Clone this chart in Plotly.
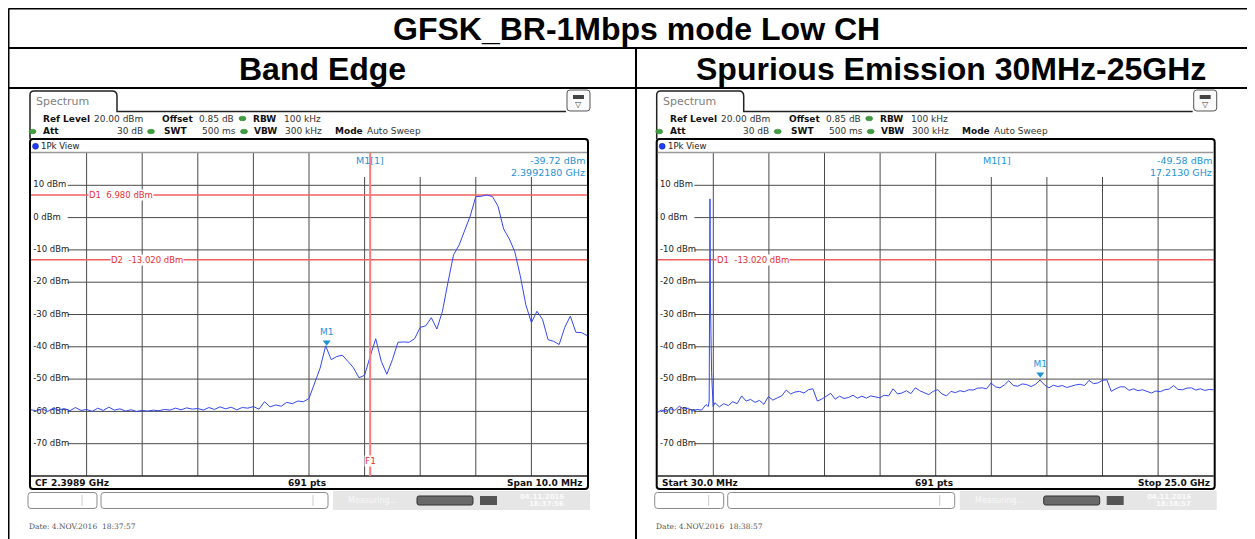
import numpy as np
import plotly.graph_objects as go

W, H = 1255, 539
OX, OY = 8, 8            # the page body margin shifts the figure by 8px
FW, FH = W - OX, H - OY

# ---- data ----
title_text = "GFSK_BR-1Mbps mode Low CH"
panel_titles = ["Band Edge", "Spurious Emission 30MHz-25GHz"]
level_ticks = [10, 0, -10, -20, -30, -40, -50, -60, -70]

# band edge sweep: CF 2.3989 GHz, span 10 MHz, one value every 0.1 MHz (dBm)
be_start_mhz, be_stop_mhz = 2393.9, 2403.9
be_level_dbm = [
    -59.5, -59.8, -59.2, -60.0, -59.0, -59.6, -59.1, -59.8, -58.8, -59.7,
    -59.4, -60.0, -59.0, -59.7, -58.7, -59.6, -59.2, -59.9, -59.5, -60.0,
    -59.7, -59.9, -59.6, -59.8, -59.4, -59.6, -59.0, -59.5, -58.9, -59.3,
    -59.1, -59.6, -58.8, -59.4, -58.6, -59.2, -58.7, -59.5, -58.8, -59.0,
    -58.5, -59.3, -57.0, -58.6, -58.0, -58.4, -57.2, -57.6, -56.8, -57.0,
    -56.0, -51.0, -46.6, -39.7, -44.0, -43.0, -42.6, -44.5, -46.5, -49.6,
    -48.8, -43.0, -37.5, -44.5, -48.5, -44.0, -38.6, -38.5, -38.6, -37.5,
    -34.0, -33.5, -31.0, -34.5, -29.0, -20.0, -11.5, -8.5, -4.0, 0.5,
    6.5, 6.6, 7.0, 6.5, 3.5, -3.5, -6.5, -10.5, -18.0, -27.0,
    -32.5, -29.0, -31.5, -37.8, -38.3, -39.3, -34.0, -30.5, -35.5, -35.6,
    -36.5,
]
be_marker = (2399.218, -39.72)
be_f1_mhz = 2400.0
be_limits = [("D1", 6.98), ("D2", -13.02)]

# spurious sweep 30 MHz - 25 GHz (GHz, dBm)
sp_freq_ghz = [
    0.03, 0.2, 0.4, 0.6, 0.8, 1.0, 1.2, 1.4, 1.6, 1.8,
    2.0, 2.2, 2.3, 2.342, 2.378, 2.40, 2.45, 2.49, 2.52,
    2.6, 2.8, 3.0, 3.2, 3.4, 3.6, 3.8, 4.0, 4.2, 4.4,
    4.6, 4.8, 5.0, 5.2, 5.4, 5.6, 5.8, 6.0, 6.2, 6.4,
    6.6, 6.8, 7.0, 7.2, 7.4, 7.6, 7.8, 8.0, 8.2, 8.4,
    8.6, 8.8, 9.0, 9.2, 9.4, 9.6, 9.8, 10.0, 10.2, 10.4,
    10.6, 10.8, 11.0, 11.2, 11.4, 11.6, 11.8, 12.0, 12.2, 12.4,
    12.6, 12.8, 13.0, 13.2, 13.4, 13.6, 13.8, 14.0, 14.2, 14.4,
    14.6, 14.8, 15.0, 15.2, 15.4, 15.6, 15.8, 16.0, 16.2, 16.4,
    16.6, 16.8, 17.0, 17.2, 17.4, 17.6, 17.8, 18.0, 18.2, 18.4,
    18.6, 18.8, 19.0, 19.2, 19.4, 19.6, 19.8, 20.0, 20.2, 20.4,
    20.6, 20.8, 21.0, 21.2, 21.4, 21.6, 21.8, 22.0, 22.2, 22.4,
    22.6, 22.8, 23.0, 23.2, 23.4, 23.6, 23.8, 24.0, 24.2, 24.4,
    24.6, 24.8, 25.0,
]
sp_level_dbm = [
    -60.3, -59.6, -60.0, -59.2, -59.7, -58.4, -59.3, -59.0, -59.9, -59.4,
    -59.6, -57.9, -58.5, -56.8, 5.8, -26.4, -48.0, -56.0, -58.5,
    -57.3, -58.6, -57.6, -58.2, -57.0, -57.6, -55.2, -56.8, -56.3, -57.2,
    -56.6, -57.8, -55.4, -56.5, -55.8, -55.2, -53.4, -54.6, -54.0, -53.8,
    -54.3, -53.3, -53.0, -56.8, -56.2, -55.4, -54.4, -56.2, -55.3, -56.0,
    -55.7, -55.0, -55.9, -55.3, -55.9, -55.2, -55.6, -55.8, -55.0, -55.2,
    -53.0, -54.6, -54.3, -53.6, -54.5, -52.7, -53.6, -54.2, -54.8, -53.8,
    -53.3, -54.6, -55.2, -53.8, -54.2, -53.6, -53.9, -53.3, -53.4, -52.8,
    -52.7, -53.0, -51.2, -52.4, -52.7, -51.8, -50.5, -52.0, -52.2, -51.5,
    -51.7, -52.3, -51.6, -50.3, -51.8, -52.7, -51.9, -52.3, -52.0, -52.6,
    -52.1, -51.8, -51.6, -52.0, -50.4, -51.4, -51.2, -50.4, -50.2, -53.8,
    -53.0, -52.4, -52.4, -53.5, -53.0, -53.6, -53.3, -53.9, -54.3, -53.7,
    -53.9, -53.3, -53.1, -52.0, -53.2, -53.3, -52.8, -52.7, -53.4, -53.0,
    -53.5, -53.2, -53.3,
]
sp_start_ghz, sp_stop_ghz = 0.03, 25.0
sp_marker = (17.213, -49.58)
sp_limits = [("D1", -13.02)]

TRACE = "#3448f0"
MARK = "#1d93d8"
RED = "#f06060"
GRID = "#4a4a4a"
FONT = "DejaVu Sans"


def px(x):
    return (x - OX) / FW


def py(y):
    return 1 - (y - OY) / FH


def P(x, y):
    return f"{px(x):.5f},{py(y):.5f}"


shapes, annotations = [], []


def line(x0, y0, x1, y1, color="#000", width=1):
    shapes.append(dict(type="line", xref="paper", yref="paper", x0=px(x0), y0=py(y0),
                       x1=px(x1), y1=py(y1), line=dict(color=color, width=width)))


def rect(x0, y0, x1, y1, fill=None, color=None, width=1, kind="rect"):
    shapes.append(dict(type=kind, xref="paper", yref="paper", x0=px(x0), y0=py(y0),
                       x1=px(x1), y1=py(y1), fillcolor=fill or "rgba(0,0,0,0)",
                       line=dict(color=color or "rgba(0,0,0,0)", width=width if color else 0)))


def rrect(x0, y0, x1, y1, r, color="#000", width=1, fill=None):
    d = (f"M {P(x0 + r, y0)} L {P(x1 - r, y0)} Q {P(x1, y0)} {P(x1, y0 + r)} "
         f"L {P(x1, y1 - r)} Q {P(x1, y1)} {P(x1 - r, y1)} L {P(x0 + r, y1)} "
         f"Q {P(x0, y1)} {P(x0, y1 - r)} L {P(x0, y0 + r)} Q {P(x0, y0)} {P(x0 + r, y0)} Z")
    shapes.append(dict(type="path", xref="paper", yref="paper", path=d,
                       fillcolor=fill or "rgba(0,0,0,0)", line=dict(color=color, width=width)))


def text(x, y, s, size=9, color="#111", anchor="left", bg=None, family=FONT):
    annotations.append(dict(xref="paper", yref="paper", x=px(x), y=py(y), text=s,
                            showarrow=False, xanchor=anchor, yanchor="middle",
                            font=dict(family=family, size=size, color=color),
                            bgcolor=bg, borderpad=0))


fig = go.Figure()

# ---- table frame and headings ----
line(8.5, 8.5, 1252.5, 8.5, width=2)
line(8.5, 48, 1252.5, 48, width=2)
line(8.5, 88, 1252.5, 88, width=2)
line(8.5, 8.5, 8.5, 539, width=2)
line(1252.5, 8.5, 1252.5, 539, width=2)
line(636, 48, 636, 539, width=2)
text(636, 29, f"<b>{title_text}</b>", size=32, color="#000", anchor="center",
     family="Liberation Sans, Arial")
text(322, 69, f"<b>{panel_titles[0]}</b>", size=32, color="#000", anchor="center",
     family="Liberation Sans, Arial")
text(951, 69, f"<b>{panel_titles[1]}</b>", size=32, color="#000", anchor="center",
     family="Liberation Sans, Arial")

panels = [
    dict(dx=0, xa="x", ya="y", rng=[be_start_mhz, be_stop_mhz], step=1.0,
         freq=np.linspace(be_start_mhz, be_stop_mhz, len(be_level_dbm)), level=be_level_dbm,
         marker=be_marker, read=("-39.72 dBm", "2.3992180 GHz"), m_x=355,
         limits=be_limits, lim_x=[88, 110], box_x=330,
         bottom=("CF 2.3989 GHz", "691 pts", "Span 10.0 MHz"),
         date="Date: 4.NOV.2016  18:37:57", clock="18:37:56"),
    dict(dx=626.7, xa="x2", ya="y2", rng=[sp_start_ghz, sp_stop_ghz], step=2.497,
         freq=sp_freq_ghz, level=sp_level_dbm,
         marker=sp_marker, read=("-49.58 dBm", "17.2130 GHz"), m_x=355,
         limits=sp_limits, lim_x=[89], box_x=318,
         bottom=("Start 30.0 MHz", "691 pts", "Stop 25.0 GHz"),
         date="Date: 4.NOV.2016  18:38:57", clock="18:38:57"),
]

for i, p in enumerate(panels):
    dx = p["dx"]
    xa, ya = p["xa"], p["ya"]
    span = p["rng"][1] - p["rng"][0]
    ax_key = "xaxis" if i == 0 else "xaxis2"
    ay_key = "yaxis" if i == 0 else "yaxis2"
    fig.update_layout(**{
        ax_key: dict(domain=[px(31 + dx), px(587 + dx)], range=p["rng"], showgrid=False,
                     showticklabels=False, zeroline=False, showline=False, ticks="",
                     fixedrange=True, anchor=ya),
        ay_key: dict(domain=[py(476), py(153)], range=[-80, 20], showgrid=False,
                     showticklabels=False, zeroline=False, showline=False, ticks="",
                     fixedrange=True, anchor=xa),
    })

    # graticule (below the traces)
    for k in range(1, 10):
        gx = p["rng"][0] + k * p["step"]
        shapes.append(dict(type="line", xref=xa, yref=f"{ya} domain", x0=gx, x1=gx, y0=0, y1=1,
                           line=dict(color=GRID, width=1), layer="below"))
    for v in level_ticks:
        shapes.append(dict(type="line", xref=f"{xa} domain", yref=ya, x0=0, x1=1, y0=v, y1=v,
                           line=dict(color=GRID, width=1), layer="below"))

    # readout box over the grid top
    shapes.append(dict(type="rect", xref=f"{xa} domain", yref=f"{ya} domain",
                       x0=(p["box_x"] - 31) / 556, x1=1, y0=(476 - 177) / 323, y1=1,
                       fillcolor="white", line=dict(width=0), layer="below"))
    # white patches behind level labels
    for v in level_ticks:
        shapes.append(dict(type="rect", xref=xa, yref=ya, x0=p["rng"][0],
                           x1=p["rng"][0] + span * 0.066, y0=v - 1.5, y1=v + 1.5,
                           fillcolor="white", line=dict(width=0), layer="below"))
    # display lines
    for (name, lv), lx in zip(p["limits"], p["lim_x"]):
        shapes.append(dict(type="line", xref=f"{xa} domain", yref=ya, x0=0, x1=1, y0=lv, y1=lv,
                           line=dict(color=RED, width=1.5), layer="below"))
        annotations.append(dict(xref="paper", yref=ya, x=px(lx + dx), y=lv,
                                text=f"{name}\u00a0 {lv:.3f} dBm", showarrow=False,
                                xanchor="left", yanchor="middle", bgcolor="white", borderpad=0,
                                font=dict(family=FONT, size=8.5, color="#e83030")))

    # tab, header rule and menu icon
    d = (f"M {P(30 + dx, 139)} L {P(30 + dx, 95)} Q {P(30 + dx, 91)} {P(34 + dx, 91)} "
         f"L {P(112 + dx, 91)} Q {P(117 + dx, 91)} {P(117 + dx, 96)} L {P(117 + dx, 111.5)} "
         f"L {P(566 + dx, 111.5)}")
    shapes.append(dict(type="path", xref="paper", yref="paper", path=d,
                       line=dict(color="#222", width=1.5)))
    rrect(567 + dx, 90, 590 + dx, 111, 3, color="#555", width=1, fill="#fafafa")
    rect(573 + dx, 95, 584 + dx, 99, fill="#444")
    text(578.5 + dx, 104.5, "▽", size=8, color="#444", anchor="center")
    text(35 + dx, 101, "Spectrum", size=11, color="#808080")

    # settings lines
    r1, r2 = 118.5, 131.5
    text(42 + dx, r1, "<b>Ref Level</b>", size=9)
    text(93 + dx, r1, "20.00 dBm", size=9, color="#333")
    text(161 + dx, r1, "<b>Offset</b>", size=9)
    text(198 + dx, r1, "0.85 dB", size=9, color="#333")
    text(252 + dx, r1, "<b>RBW</b>", size=9)
    text(283 + dx, r1, "100 kHz", size=9, color="#333")
    text(42 + dx, r2, "<b>Att</b>", size=9)
    text(143.5 + dx, r2, "30 dB", size=9, color="#333", anchor="right")
    text(163 + dx, r2, "<b>SWT</b>", size=9)
    text(201 + dx, r2, "500 ms", size=9, color="#333")
    text(253 + dx, r2, "<b>VBW</b>", size=9)
    text(284 + dx, r2, "300 kHz", size=9, color="#333")
    text(334 + dx, r2, "<b>Mode</b>", size=9)
    text(366 + dx, r2, "Auto Sweep", size=9, color="#333")
    for cx, cy in [(242.5, r1), (32.5, r2), (151, r2), (244, r2)]:
        rect(cx - 3.5 + dx, cy - 2.3, cx + 3.5 + dx, cy + 2.3, fill="#3f9f3f",
             color="#2d7d2d", width=0.5, kind="circle")

    # display frame
    rrect(30 + dx, 139, 588 + dx, 489, 3, color="#000", width=2)
    line(31 + dx, 152.5, 587 + dx, 152.5, color="#999", width=1.5)
    line(31 + dx, 476, 587 + dx, 476, color="#222", width=1.5)
    rect(32.5 + dx, 143.3, 38.5 + dx, 149.3, fill="#1f3df5", color="#0a1f90",
         width=0.5, kind="circle")
    text(40 + dx, 146.3, "1Pk View", size=8.5, color="#222")

    # marker readout
    text(p["m_x"] + dx, 160, "M1[1]", size=9.5, color=MARK)
    text(586 + dx, 160, p["read"][0], size=9.5, color=MARK, anchor="right")
    text(586 + dx, 172, p["read"][1], size=9.5, color=MARK, anchor="right")

    # level labels (under the trace)
    fig.add_trace(go.Scatter(x=[p["rng"][0] + span * 0.004] * len(level_ticks), y=level_ticks,
                             text=[f"{v} dBm" for v in level_ticks], mode="text",
                             textposition="middle right", xaxis=xa, yaxis=ya,
                             textfont=dict(family=FONT, size=8.5, color="#222"),
                             hoverinfo="skip", showlegend=False, cliponaxis=False))

    # trace
    fig.add_trace(go.Scatter(x=p["freq"], y=p["level"], mode="lines", xaxis=xa, yaxis=ya,
                             line=dict(color=TRACE, width=1), showlegend=False))

    # marker M1
    mf, ml = p["marker"]
    fig.add_trace(go.Scatter(x=[mf], y=[ml + 1.1], mode="markers+text", text=["M1"],
                             textposition="top center", xaxis=xa, yaxis=ya,
                             marker=dict(symbol="triangle-down", size=7, color=MARK),
                             textfont=dict(family=FONT, size=9, color=MARK),
                             showlegend=False, cliponaxis=False))

    # bottom info row
    text(34 + dx, 482.5, f"<b>{p['bottom'][0]}</b>", size=9)
    text(307 + dx, 482.5, f"<b>{p['bottom'][1]}</b>", size=9, anchor="center")
    text(584 + dx, 482.5, f"<b>{p['bottom'][2]}</b>", size=9, anchor="right")

    # status bar
    rrect(28 + dx, 492.5, 97 + dx, 508.5, 3, color="#8a8a8a", width=1)
    line(82 + dx, 495, 82 + dx, 506, color="#ccc")
    rrect(101 + dx, 492.5, 328 + dx, 508.5, 3, color="#8a8a8a", width=1)
    line(313 + dx, 495, 313 + dx, 506, color="#ccc")
    rect(333 + dx, 491, 590 + dx, 510, fill="#e6e6e6")
    text(347 + dx, 500, "Measuring...", size=8, color="#f8f8f8")
    rrect(417 + dx, 496, 473 + dx, 505, 2, color="#333", width=1, fill="#6a6a6a")
    rect(480 + dx, 496, 497 + dx, 505, fill="#555")
    text(565 + dx, 496.5, "<b>04.11.2016</b>", size=7, color="#fbfbfb", anchor="right")
    text(565 + dx, 504, f"<b>{p['clock']}</b>", size=7, color="#fbfbfb", anchor="right")
    text(28 + dx, 526.5, p["date"], size=7.5, color="#555", family="DejaVu Serif")

# band edge F1 line
shapes.append(dict(type="line", xref="x", yref="y domain", x0=be_f1_mhz, x1=be_f1_mhz,
                   y0=0, y1=1, line=dict(color="#ff7a7a", width=2)))
annotations.append(dict(xref="x", yref="paper", x=be_f1_mhz, y=py(460.5), text="F1",
                        showarrow=False, xanchor="center", yanchor="middle", bgcolor="white",
                        borderpad=0, font=dict(family=FONT, size=9, color="#e83030")))

fig.update_layout(
    width=FW, height=FH,
    margin=dict(l=0, r=0, t=0, b=0),
    paper_bgcolor="white",
    plot_bgcolor="white",
    showlegend=False,
    shapes=shapes,
    annotations=annotations,
)

fig.write_html("out.html")
